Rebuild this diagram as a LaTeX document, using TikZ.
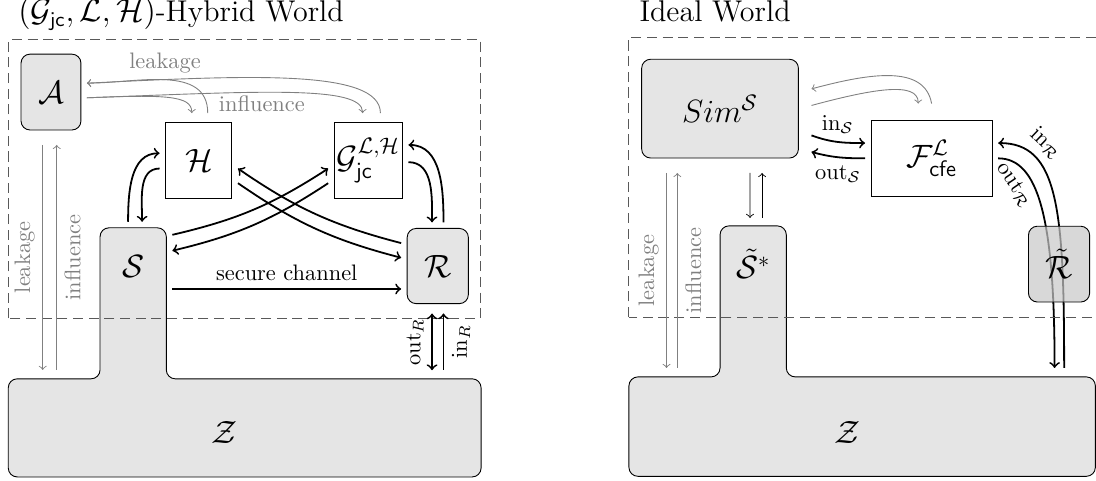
\documentclass[tikz,border=0pt]{standalone}
\usepackage{amsmath,amssymb}
\usetikzlibrary{arrows,calc,positioning,backgrounds}

\tikzset{
	party/.style={draw, fill=black!10, rounded corners=4pt, outer sep=2.7pt, inner sep=1pt, font=\Large},
	func/.style={draw, fill=white, outer sep=2.7pt, inner sep=1pt, font=\Large},
	col/.style={outer sep=2.7pt, font=\Large, minimum width=1.04cm, minimum height=1.2cm},
	env/.style={draw, fill=black!10, rounded corners=4pt},
	world/.style={draw=black!65, dash pattern=on 4.5pt off 2.5pt},
	title/.style={anchor=base west, inner sep=0pt, font=\fontsize{13.4pt}{16pt}\selectfont},
	msg/.style={->, thick},
	link/.style={->},
	side/.style={->, gray},
	sidetext/.style={text=gray}
}

\begin{document}
\begin{tikzpicture}
	\useasboundingbox (0,0) rectangle (17.2,7.535);
	
	% hybrid world
	\draw[env] (0.13,0.05) -- (7.55,0.05) -- (7.55,1.59) -- (2.61,1.59) -- (2.61,3.96) -- (1.57,3.96) -- (1.57,1.59) -- (0.13,1.59) -- cycle;
	\draw[world] (0.13,2.54) rectangle (7.54,6.91);
	\node[title] (hyb) at (0.28,7.19) {$(\mathcal{G}_{\mathsf{jc}},\mathcal{L},\mathcal{H})$-Hybrid World};
	
	\node[party, minimum width=0.94cm, minimum height=1.19cm] (A) at (0.80,6.09) {$\mathcal{A}$};
	\node[func, minimum width=1.04cm, minimum height=1.19cm] (H) at (3.12,5.02) {$\mathcal{H}$};
	\node[func, minimum width=1.07cm, minimum height=1.19cm] (G) at (5.78,5.02) {$\mathcal{G}_{\mathsf{jc}}^{\mathcal{L},\mathcal{H}}$};
	\node[party, minimum width=0.96cm, minimum height=1.18cm] (R) at (6.87,3.36) {$\mathcal{R}$};
	\node[col] (S) at (2.09,3.36) {$\mathcal{S}$};
	\node[font=\Large] (Z) at (3.53,0.74) {$\mathcal{Z}$};
	
	\draw[msg] ([xshift=-0.08cm]S.north) to[out=90,in=180] ([yshift=0.11cm]H.west);
	\draw[msg] ([yshift=-0.13cm]H.west) to[out=180,in=90] ([xshift=0.14cm]S.north);
	\draw[msg] ([xshift=0.09cm]R.north) to[out=90,in=0] ([yshift=0.24cm]G.east);
	\draw[msg] ([yshift=-0.03cm]G.east) to[out=0,in=90] ([xshift=-0.09cm]R.north);
	
	\draw[msg] ([yshift=0.49cm]S.east) to[bend right=10] ([yshift=-0.13cm]G.west);
	\draw[msg] ([yshift=-0.36cm]G.west) to[bend left=10] ([yshift=0.24cm]S.east);
	\draw[msg] ([yshift=-0.36cm]H.east) to[bend right=10] ([yshift=0.13cm]R.west);
	\draw[msg] ([yshift=0.36cm]R.west) to[bend left=10] ([yshift=-0.13cm]H.east);
	
	\draw[msg] ([yshift=-0.36cm]S.east) -- node[above] {secure channel} ([yshift=-0.36cm]R.west);
	
	\draw[side] ([xshift=0.14cm,yshift=0.05cm]H.north) .. controls +(0,0.77) and +(0.77,0) .. ([yshift=0.14cm]A.east);
	\draw[side] ([xshift=0.19cm,yshift=0.05cm]G.north) .. controls +(0,0.7) and +(2.5,0.12) .. ([yshift=0.14cm]A.east);
	\draw[side] ([yshift=-0.09cm]A.east) .. controls +(1.22,0.05) and +(0,0.28) .. ([xshift=-0.11cm,yshift=0.05cm]H.north);
	\draw[side] ([yshift=-0.09cm]A.east) .. controls +(2.7,0.1) and +(0,0.44) .. ([xshift=-0.09cm,yshift=0.05cm]G.north);
	\node[sidetext] (lk) at (2.59,6.55) {leakage};
	\node[sidetext] (inf) at (4.11,5.90) {influence};
	
	\draw[side] ([xshift=-0.13cm,yshift=-0.14cm]A.south) -- node[rotate=90, above, sidetext] {leakage} ([xshift=-0.13cm,yshift=-3.67cm]A.south);
	\draw[side] ([xshift=0.09cm,yshift=-3.67cm]A.south) -- node[rotate=90, below, sidetext] {influence} ([xshift=0.09cm,yshift=-0.14cm]A.south);
	
	\draw[msg, <->] ([xshift=-0.09cm,yshift=-0.06cm]R.south) -- node[rotate=90, above] {$\mathrm{out}_R$} ([xshift=-0.09cm,yshift=-0.95cm]R.south);
	\draw[msg, <-] ([xshift=0.09cm,yshift=-0.06cm]R.south) -- node[rotate=90, below] {$\mathrm{in}_R$} ([xshift=0.09cm,yshift=-0.95cm]R.south);
	
	% ideal world
	\draw[env] (9.87,0.06) -- (17.19,0.06) -- (17.19,1.62) -- (12.34,1.62) -- (12.34,3.99) -- (11.30,3.99) -- (11.30,1.62) -- (9.87,1.62) -- cycle;
	\draw[world] (9.87,2.56) rectangle (17.6,6.95);
	\node[title] (ideal) at (10.03,7.19) {Ideal World};
	
	\node[party, minimum width=2.46cm, minimum height=1.55cm] (Sim) at (11.30,5.83) {$Sim^{\mathcal{S}}$};
	\node[func, minimum width=1.90cm, minimum height=1.19cm] (F) at (14.62,5.05) {$\mathcal{F}_{\mathsf{cfe}}^{\mathcal{L}}$};
	\node[col] (St) at (11.82,3.39) {$\tilde{\mathcal{S}}^{*}$};
	\node[font=\Large] (Z2) at (13.30,0.74) {$\mathcal{Z}$};
	\node[party, fill=black!22, fill opacity=0.7, text opacity=1, minimum width=0.96cm, minimum height=1.19cm] (Rt) at (16.62,3.39) {$\tilde{\mathcal{R}}$};
	
	\draw[side] ([yshift=0.17cm]F.north) .. controls +(-0.11,0.61) and +(0.93,0.25) .. ([xshift=0.11cm,yshift=0.31cm]Sim.east);
	\draw[side] ([xshift=0.11cm,yshift=0.05cm]Sim.east) .. controls +(0.93,0.25) and +(0,0.36) .. ([xshift=-0.21cm,yshift=0.17cm]F.north);
	\draw[msg] ([xshift=0.11cm,yshift=-0.42cm]Sim.east) to[out=-20,in=180] node[above] {$\mathrm{in}_{\mathcal{S}}$} ([yshift=0.24cm]F.west);
	\draw[msg] (F.west) to[out=180,in=-15] node[below] {$\mathrm{out}_{\mathcal{S}}$} ([xshift=0.11cm,yshift=-0.68cm]Sim.east);
	
	\draw[link] ([xshift=0.47cm,yshift=-0.14cm]Sim.south) -- ([xshift=-0.05cm,yshift=0.03cm]St.north);
	\draw[link] ([xshift=0.14cm,yshift=0.03cm]St.north) -- ([xshift=0.66cm,yshift=-0.14cm]Sim.south);
	
	\draw[side] ([xshift=-0.84cm,yshift=-0.14cm]Sim.south) -- node[rotate=90, above, sidetext] {leakage} ([xshift=-0.84cm,yshift=-3.20cm]Sim.south);
	\draw[side] ([xshift=-0.67cm,yshift=-3.20cm]Sim.south) -- node[rotate=90, below, sidetext] {influence} ([xshift=-0.67cm,yshift=-0.14cm]Sim.south);
	
	\begin{scope}[on background layer]
		\draw[msg] ([xshift=0.08cm,yshift=-0.94cm]Rt.south) .. controls +(0,2.51) and +(0.94,0) .. node[pos=0.75, sloped, above] {$\mathrm{in}_{\mathcal{R}}$} ([yshift=0.24cm]F.east);
		\draw[msg] (F.east) .. controls +(0.63,0) and +(0,2.35) .. node[pos=0.3, sloped, below] {$\mathrm{out}_{\mathcal{R}}$} ([xshift=-0.07cm,yshift=-0.94cm]Rt.south);
	\end{scope}
	
\end{tikzpicture}
\end{document}
